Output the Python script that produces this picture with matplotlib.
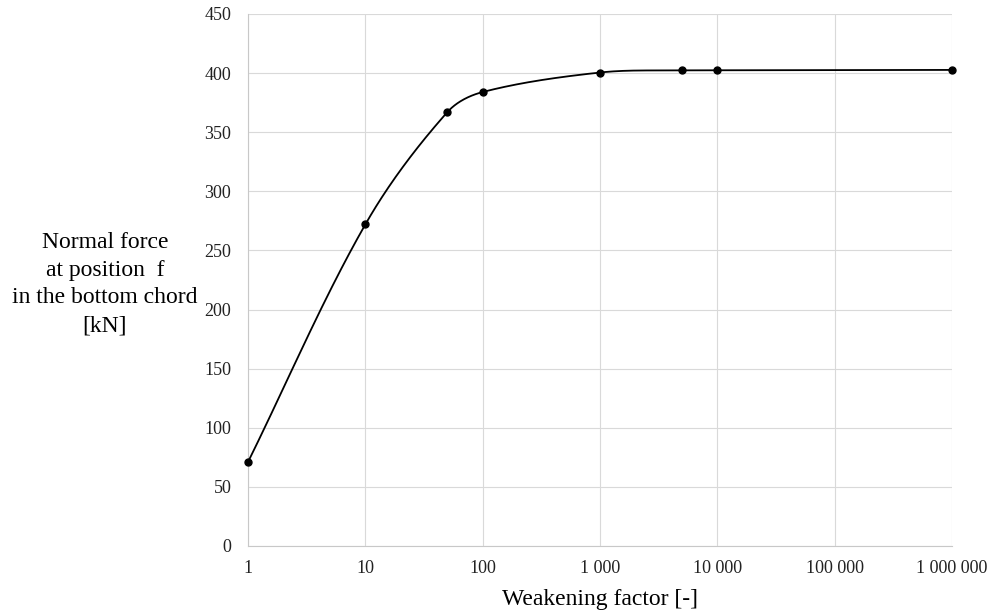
import numpy as np
import matplotlib.pyplot as plt
from matplotlib.ticker import FixedLocator, FuncFormatter

plt.rcParams['font.family'] = ['Liberation Serif', 'DejaVu Serif']

# weakening factor vs normal force in bottom chord
factor = [1, 10, 50, 100, 1000, 5000, 10000, 1000000]
force = [71, 272, 367, 384, 400.5, 402.4, 402.4, 402.7]

xticks = [1, 10, 100, 1000, 10000, 100000, 1000000]


def smooth_curve(xs, ys, n=80):
    # bezier smoothing in screen-like units; tangent along neighbours,
    # handle length a third of each segment
    u = np.log10(xs) / 6.0 * 704
    v = np.array(ys) / 450.0 * 532
    pts = np.column_stack([u, v])
    m = len(pts)
    tang = np.zeros_like(pts)
    for i in range(m):
        a = pts[max(i - 1, 0)]
        b = pts[min(i + 1, m - 1)]
        d = b - a
        tang[i] = d / np.linalg.norm(d)
    out = []
    for i in range(m - 1):
        p1, p2 = pts[i], pts[i + 1]
        L = np.linalg.norm(p2 - p1)
        c1 = p1 + tang[i] * L / 3.0
        c2 = p2 - tang[i + 1] * L / 3.0
        t = np.linspace(0, 1, n)[:, None]
        seg = ((1 - t) ** 3 * p1 + 3 * (1 - t) ** 2 * t * c1
               + 3 * (1 - t) * t ** 2 * c2 + t ** 3 * p2)
        out.append(seg)
    out = np.vstack(out)
    return 10 ** (out[:, 0] / 704 * 6.0), out[:, 1] / 532 * 450.0


fig = plt.figure(figsize=(9.9, 6.12), dpi=100)
ax = fig.add_axes([248 / 990, 66 / 612, 704 / 990, 532 / 612])

cx, cy = smooth_curve(factor, force)
ax.plot(cx, cy, color='black', lw=1.3, zorder=3, clip_on=False)
ax.plot(factor, force, 'o', color='black', ms=5, zorder=4, clip_on=False)

ax.set_xscale('log')
ax.set_xlim(1, 1000000)
ax.set_ylim(0, 450)
ax.xaxis.set_major_locator(FixedLocator(xticks))
ax.xaxis.set_minor_locator(FixedLocator([]))
ax.xaxis.set_major_formatter(FuncFormatter(lambda v, p: f'{int(round(v)):,}'.replace(',', ' ')))
ax.set_yticks(range(0, 451, 50))

ax.grid(True, color='#d9d9d9', lw=0.8)
ax.set_axisbelow(True)
for s in ['top', 'right']:
    ax.spines[s].set_visible(False)
for s in ['left', 'bottom']:
    ax.spines[s].set_color('#c8c8c8')
    ax.spines[s].set_linewidth(0.8)

ax.tick_params(axis='both', length=0, labelsize=13, colors='#222222')
ax.tick_params(axis='x', pad=10)
ax.tick_params(axis='y', pad=12)

ax.set_xlabel('Weakening factor [-]', fontsize=17, labelpad=9)
fig.text(105 / 990, 1 - 284 / 612,
         'Normal force\nat position  f\nin the bottom chord\n[kN]',
         ha='center', va='center', fontsize=17, linespacing=1.42)

fig.savefig('out.png', dpi=100)
